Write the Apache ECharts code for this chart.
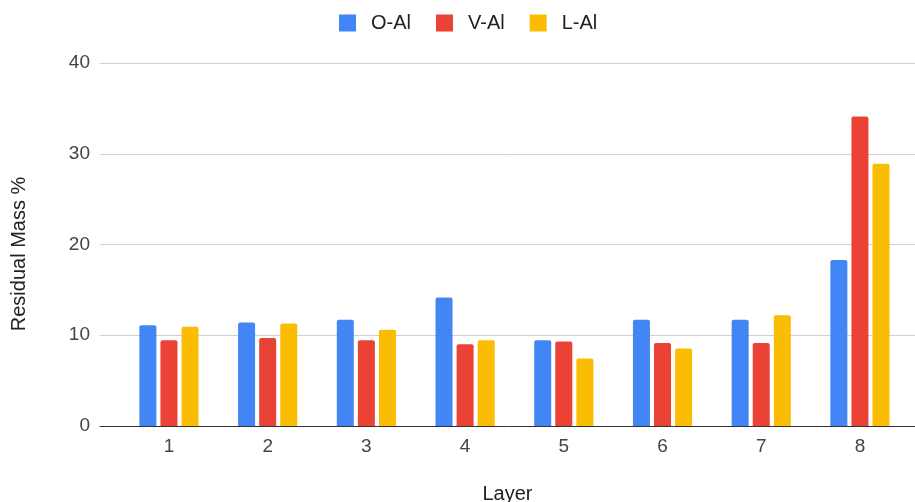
<!DOCTYPE html>
<html>
<head>
<meta charset="utf-8">
<script src="https://cdn.jsdelivr.net/npm/echarts@6/dist/echarts.min.js"></script>
<style>
  html, body { margin: 0; padding: 0; background: #fff; }
  #chart { width: 915px; height: 502px; }
</style>
</head>
<body>
<div id="chart"></div>
<script>
// Residual mass per layer for three alloys
const layers = ['1', '2', '3', '4', '5', '6', '7', '8'];
const oAl = [11.1, 11.4, 11.7, 14.15, 9.45, 11.7, 11.7, 18.3];
const vAl = [9.45, 9.7, 9.45, 9.0, 9.3, 9.15, 9.15, 34.1];
const lAl = [10.95, 11.3, 10.6, 9.45, 7.45, 8.55, 12.2, 28.9];
const seriesNames = ['O-Al', 'V-Al', 'L-Al'];
const colors = ['#4285F4', '#EA4335', '#FBBC04'];

const FONT = '"Liberation Sans", Arial, sans-serif';
const chart = echarts.init(document.getElementById('chart'));

function barSeries(name, data, color) {
  return {
    name: name,
    type: 'bar',
    xAxisIndex: 1,
    yAxisIndex: 1,
    data: data,
    barWidth: 17,
    barGap: '24%',
    itemStyle: { color: color, borderRadius: [2, 2, 0, 0] }
  };
}

chart.setOption({
  animation: false,
  textStyle: { fontFamily: FONT },
  color: colors,
  legend: {
    top: 8,
    left: 334,
    itemWidth: 17,
    itemHeight: 17,
    itemGap: 25,
    icon: 'rect',
    textStyle: { fontSize: 20, color: '#222', fontFamily: FONT, padding: [0, 0, 0, 10] },
    data: seriesNames
  },
  grid: [
    // frame grid: gridlines, baseline, value labels
    { left: 100, right: 0, top: 63, bottom: 76, outerBoundsMode: 'none', containLabel: false },
    // bar grid: inset so the categories sit inside the gridlines
    { left: 119.6, width: 789.7, top: 63, bottom: 76, outerBoundsMode: 'none', containLabel: false }
  ],
  // vertical axis title
  graphic: [{
    type: 'text',
    x: 19,
    y: 254,
    rotation: Math.PI / 2,
    style: {
      text: 'Residual Mass %',
      font: '20px ' + FONT,
      fill: '#222',
      align: 'center',
      verticalAlign: 'middle'
    }
  }],
  xAxis: [
    {
      gridIndex: 0, type: 'value', min: 0, max: 1,
      axisLine: { show: true, onZero: false, lineStyle: { color: '#333', width: 1 } },
      axisTick: { show: false }, axisLabel: { show: false }, splitLine: { show: false },
      name: 'Layer', nameLocation: 'middle', nameGap: 58,
      nameTextStyle: { fontSize: 20, color: '#222', fontFamily: FONT }
    },
    {
      gridIndex: 1, type: 'category', data: layers,
      axisLine: { show: false }, axisTick: { show: false },
      axisLabel: { fontSize: 19, color: '#444', margin: 11, fontFamily: FONT }
    }
  ],
  yAxis: [
    {
      gridIndex: 0, type: 'value', min: 0, max: 40, interval: 10,
      axisLine: { show: false }, axisTick: { show: false },
      axisLabel: { fontSize: 19, color: '#444', margin: 10, fontFamily: FONT },
      splitLine: { lineStyle: { color: '#d0d0d0', width: 1 } }
    },
    {
      gridIndex: 1, type: 'value', min: 0, max: 40, interval: 10,
      show: false, splitLine: { show: false }
    }
  ],
  series: [
    barSeries(seriesNames[0], oAl, colors[0]),
    barSeries(seriesNames[1], vAl, colors[1]),
    barSeries(seriesNames[2], lAl, colors[2])
  ]
});
</script>
</body>
</html>
